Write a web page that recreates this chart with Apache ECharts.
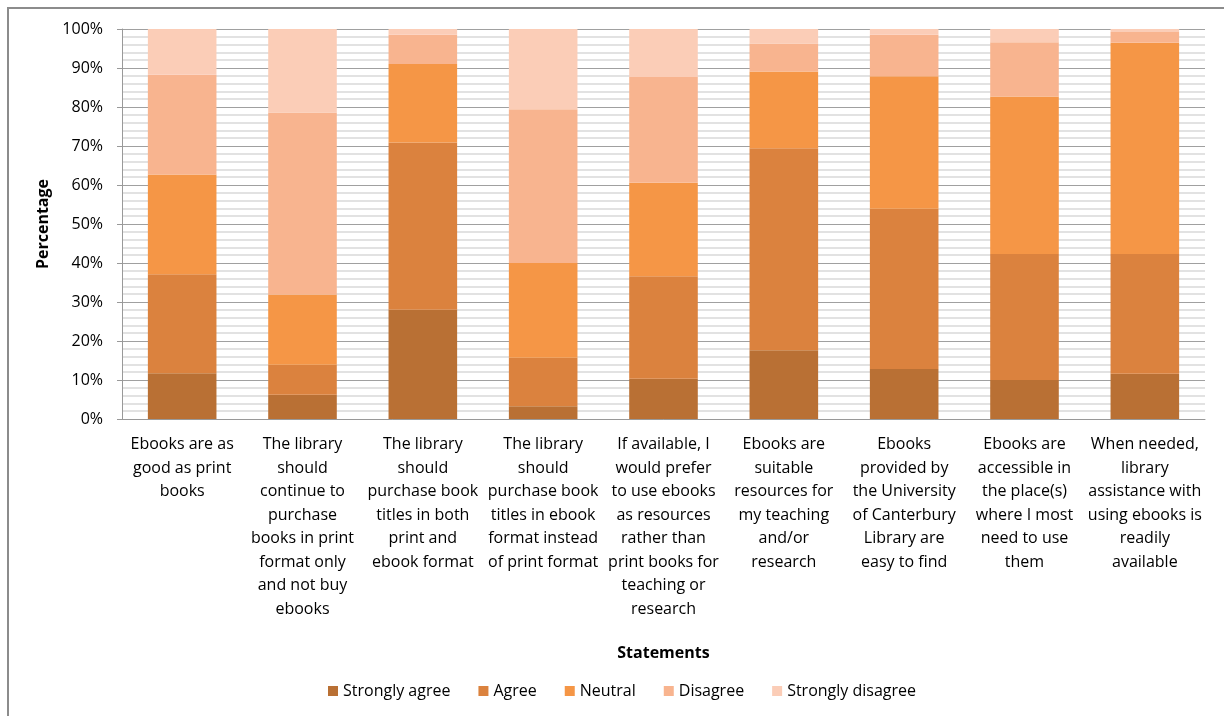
<!DOCTYPE html>
<html>
<head>
<meta charset="utf-8">
<script src="https://cdn.jsdelivr.net/npm/echarts@6/dist/echarts.min.js"></script>
<style>
  html, body { margin: 0; padding: 0; background: #fff; }
  #main { width: 1225px; height: 716px; }
</style>
</head>
<body>
<div id="main"></div>
<script>
// tick labels for the statements (line breaks as in the original)
var statements = [
    'Ebooks are as\ngood as print\nbooks',
    'The library\nshould\ncontinue to\npurchase\nbooks in print\nformat only\nand not buy\nebooks',
    'The library\nshould\npurchase book\ntitles in both\nprint and\nebook format',
    'The library\nshould\npurchase book\ntitles in ebook\nformat instead\nof print format',
    'If available, I\nwould prefer\nto use ebooks\nas resources\nrather than\nprint books for\nteaching or\nresearch',
    'Ebooks are\nsuitable\nresources for\nmy teaching\nand/or\nresearch',
    'Ebooks\nprovided by\nthe University\nof Canterbury\nLibrary are\neasy to find',
    'Ebooks are\naccessible in\nthe place(s)\nwhere I most\nneed to use\nthem',
    'When needed,\nlibrary\nassistance with\nusing ebooks is\nreadily\navailable'
];

// percentages
var stronglyAgree    = [11.7,  6.2, 28.0,  3.3, 10.3, 17.6, 12.8, 10.0, 11.6];
var agree            = [25.4,  7.7, 42.9, 12.4, 26.3, 51.8, 41.1, 32.3, 30.7];
var neutral          = [25.6, 18.0, 20.1, 24.3, 24.0, 19.7, 34.0, 40.4, 54.2];
var disagree         = [25.6, 46.7,  7.5, 39.4, 27.1,  7.2, 10.6, 13.9,  2.7];
var stronglyDisagree = [11.7, 21.4,  1.5, 20.6, 12.3,  3.7,  1.5,  3.4,  0.8];

var seriesNames = ['Strongly agree', 'Agree', 'Neutral', 'Disagree', 'Strongly disagree'];
var seriesData = [stronglyAgree, agree, neutral, disagree, stronglyDisagree];
var colors = ['#B97034', '#DB823E', '#F59646', '#F8B48F', '#FBCDB7'];

var font = '"Liberation Sans Narrow", "Open Sans", sans-serif';

var chart = echarts.init(document.getElementById('main'));

var series = [];
for (var i = 0; i < seriesNames.length; i++) {
    series.push({
        name: seriesNames[i],
        type: 'bar',
        stack: 'total',
        barWidth: '57%',
        data: seriesData[i],
        itemStyle: { color: colors[i] }
    });
}

chart.setOption({
    animation: false,
    backgroundColor: '#fff',
    color: colors,
    graphic: [
        {
            type: 'polyline',
            shape: { points: [[8, 716], [8, 8], [1224, 8]] },
            style: { stroke: '#8c8c8c', lineWidth: 2, fill: null }
        }
    ],
    grid: {
        left: 122,
        right: 20,
        top: 29,
        bottom: 297
    },
    legend: {
        bottom: 12,
        left: 323,
        itemWidth: 10,
        itemHeight: 10,
        itemGap: 28,
        icon: 'rect',
        textStyle: { fontFamily: font, fontSize: 16, color: '#000' },
        data: seriesNames
    },
    xAxis: {
        type: 'category',
        data: statements,
        name: 'Statements',
        nameLocation: 'middle',
        nameGap: 226,
        nameTextStyle: { fontFamily: font, fontSize: 16, fontWeight: 'bold', color: '#000' },
        axisLine: { show: true, lineStyle: { color: '#999' } },
        axisTick: { show: false },
        axisLabel: {
            interval: 0,
            margin: 14,
            fontFamily: font,
            fontSize: 16,
            lineHeight: 23.5,
            color: '#000'
        }
    },
    yAxis: {
        type: 'value',
        min: 0,
        max: 100,
        interval: 10,
        name: 'Percentage',
        nameLocation: 'middle',
        nameGap: 69,
        nameTextStyle: { fontFamily: font, fontSize: 16, fontWeight: 'bold', color: '#000' },
        axisLine: { show: true, lineStyle: { color: '#999' } },
        axisTick: { show: true, length: 5, lineStyle: { color: '#999' } },
        axisLabel: {
            margin: 19,
            formatter: '{value}%',
            fontFamily: font,
            fontSize: 16,
            color: '#000'
        },
        splitLine: { show: true, lineStyle: { color: '#a0a0a0', width: 1 } },
        minorTick: { show: false, splitNumber: 5 },
        minorSplitLine: { show: true, lineStyle: { color: '#d9d9d9', width: 1.5 } }
    },
    series: series
});
</script>
</body>
</html>
